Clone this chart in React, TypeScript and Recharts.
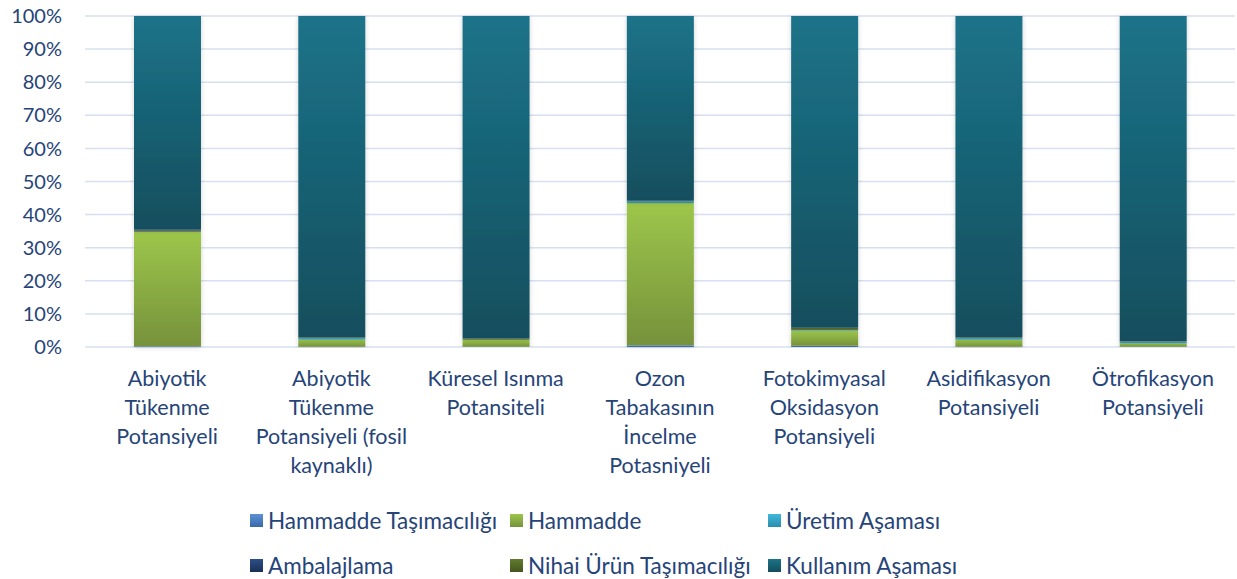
import React from 'react';
import { BarChart, Bar, XAxis, YAxis, CartesianGrid } from 'recharts';

// categories (line breaks as in the original axis labels)
const categories = [
  'Abiyotik\nTükenme\nPotansiyeli',
  'Abiyotik\nTükenme\nPotansiyeli (fosil\nkaynaklı)',
  'Küresel Isınma\nPotansiteli',
  'Ozon\nTabakasının\nİncelme\nPotasniyeli',
  'Fotokimyasal\nOksidasyon\nPotansiyeli',
  'Asidifikasyon\nPotansiyeli',
  'Ötrofikasyon\nPotansiyeli',
];

// shares in %
const hammaddeTasima = [0.2, 0.1, 0.1, 0.5, 0.4, 0.1, 0.1];
const hammadde = [34.6, 2.2, 2.0, 43.0, 4.6, 2.2, 1.0];
const uretim = [0.1, 0.4, 0.1, 0.5, 0.1, 0.4, 0.5];
const ambalajlama = [0.2, 0.05, 0.05, 0.1, 0.1, 0.05, 0.05];
const nihaiTasima = [0.3, 0.1, 0.4, 0.1, 0.6, 0.1, 0.1];
const kullanim = [64.6, 97.15, 97.35, 55.8, 94.2, 97.15, 98.25];

const yTicks = [0, 0.1, 0.2, 0.3, 0.4, 0.5, 0.6, 0.7, 0.8, 0.9, 1];

const series = [
  { key: 'ht', name: 'Hammadde Taşımacılığı', values: hammaddeTasima, top: '#5c91d6', bottom: '#3a69a8' },
  { key: 'h', name: 'Hammadde', values: hammadde, top: '#9dc64b', bottom: '#76923b' },
  { key: 'u', name: 'Üretim Aşaması', values: uretim, top: '#40b8da', bottom: '#288dad' },
  { key: 'a', name: 'Ambalajlama', values: ambalajlama, top: '#2d4f88', bottom: '#1a2f56' },
  { key: 'n', name: 'Nihai Ürün Taşımacılığı', values: nihaiTasima, top: '#617c2f', bottom: '#44561f' },
  { key: 'k', name: 'Kullanım Aşaması', values: kullanim, top: '#1c7389', bottom: '#134e5d' },
];

const data = categories.map((c, i) => {
  const row: Record<string, any> = { name: c };
  series.forEach((s) => (row[s.key] = s.values[i]));
  return row;
});

const FONT = 'Lato, "Open Sans", sans-serif';
const TEXT = '#264478';

const CategoryTick = (props: any) => {
  const { x, y, payload } = props;
  const lines = String(payload.value).split('\n');
  return (
    <text x={x} y={y} textAnchor="middle" fill={TEXT} fontSize={21.5} fontFamily={FONT}>
      {lines.map((l, i) => (
        <tspan key={i} x={x} y={y + 39 + i * 29}>
          {l}
        </tspan>
      ))}
    </text>
  );
};

const legendCols = [250, 510, 768];

const LegendBox = () => (
  <div style={{ position: 'absolute', left: 0, top: 500, width: 1237, height: 79, fontFamily: FONT, fontSize: 22.5, color: TEXT }}>
    {series.map((s, i) => (
      <div
        key={s.key}
        style={{
          position: 'absolute',
          left: legendCols[i % 3],
          top: i < 3 ? 6 : 51,
          height: 28,
          display: 'flex',
          alignItems: 'center',
          whiteSpace: 'nowrap',
        }}
      >
        <span
          style={{
            display: 'inline-block',
            width: 13,
            height: 13,
            marginRight: 5,
            background: `linear-gradient(${s.top}, ${s.bottom})`,
          }}
        />
        {s.name}
      </div>
    ))}
  </div>
);

export default function App() {
  return (
    <div style={{ position: 'absolute', left: 0, top: 0, width: 1237, height: 579, background: '#fff' }}>
      <BarChart
        width={1237}
        height={579}
        data={data}
        stackOffset="expand"
        barSize={67}
        margin={{ top: 16, right: 2, bottom: 0, left: 0 }}
      >
        <defs>
          {series.map((s) => (
            <linearGradient key={s.key} id={`g-${s.key}`} x1="0" y1="0" x2="0" y2="1">
              <stop offset="0%" stopColor={s.top} />
              <stop offset="100%" stopColor={s.bottom} />
            </linearGradient>
          ))}
          <filter id="shadow" x="-20%" y="-5%" width="140%" height="110%">
            <feDropShadow dx="0" dy="1" stdDeviation="2.5" floodColor="#000" floodOpacity="0.18" />
          </filter>
        </defs>
        <CartesianGrid vertical={false} stroke="#d6e0f0" strokeWidth={1.5} />
        <XAxis
          dataKey="name"
          axisLine={false}
          tickLine={false}
          tickSize={0}
          tickMargin={0}
          interval={0}
          tick={<CategoryTick />}
          height={232}
        />
        <YAxis
          domain={[0, 1]}
          ticks={yTicks}
          axisLine={false}
          tickLine={false}
          tickSize={0}
          tickMargin={23}
          width={85}
          tickFormatter={(v: number) => `${Math.round(v * 100)}%`}
          tick={{ fill: TEXT, fontSize: 20, fontFamily: FONT }}
        />
        {series.map((s) => (
          <Bar
            key={s.key}
            dataKey={s.key}
            name={s.name}
            stackId="a"
            fill={`url(#g-${s.key})`}
            filter="url(#shadow)"
            isAnimationActive={false}
          />
        ))}
      </BarChart>
      <LegendBox />
    </div>
  );
}
